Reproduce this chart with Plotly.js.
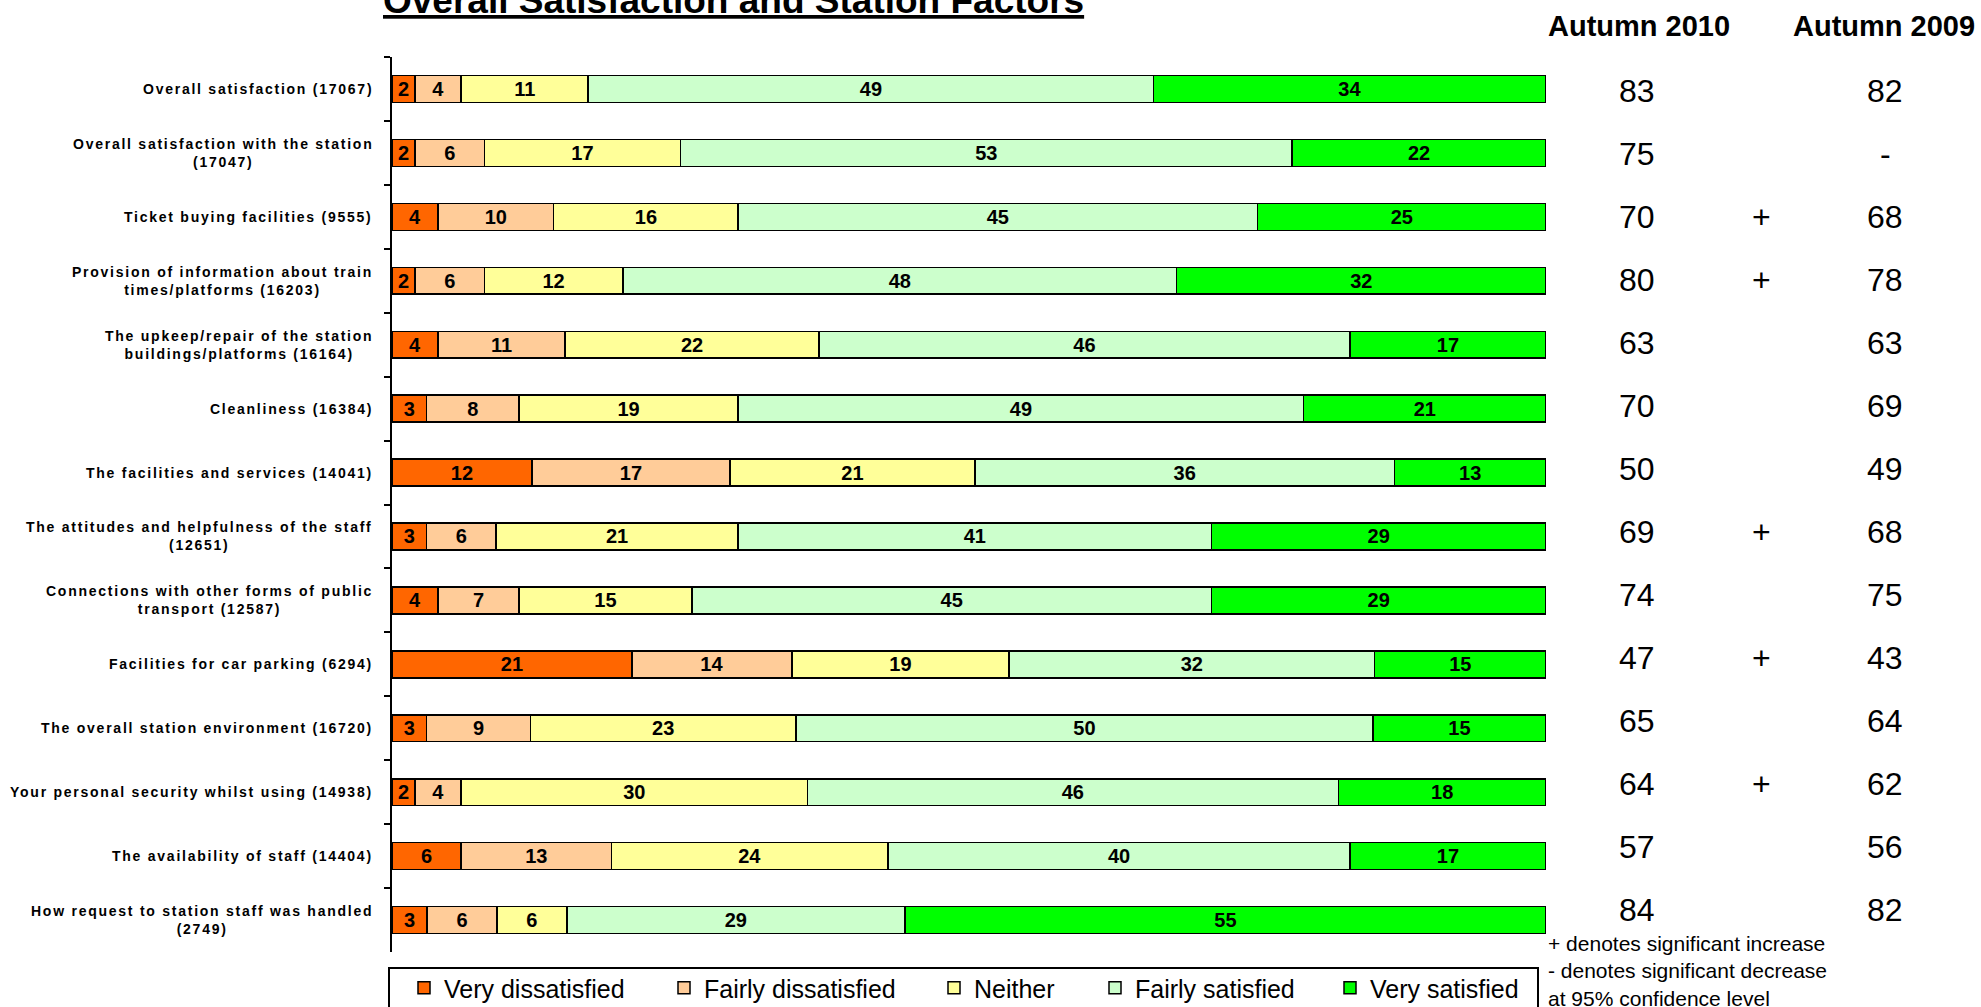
<!DOCTYPE html>
<html><head><meta charset="utf-8">
<script src="https://cdn.plot.ly/plotly-3.0.1.min.js"></script>
<style>html,body{margin:0;padding:0;background:#fff;overflow:hidden}#chart{width:1981px;height:1007px}</style>
</head><body><div id="chart"></div>
<script>
// ---------- data ----------
const chartTitle = 'Overall Satisfaction and Station Factors';
const categories = [
  'Overall satisfaction (17067)',
  'Overall satisfaction with the station<br>(17047)',
  'Ticket buying facilities (9555)',
  'Provision of information about train<br>times/platforms (16203)',
  'The upkeep/repair of the station<br>buildings/platforms (16164)',
  'Cleanliness (16384)',
  'The facilities and services (14041)',
  'The attitudes and helpfulness of the staff<br>(12651)',
  'Connections with other forms of public<br>transport (12587)',
  'Facilities for car parking (6294)',
  'The overall station environment (16720)',
  'Your personal security whilst using (14938)',
  'The availability of staff (14404)',
  'How request to station staff was handled<br>(2749)'
];
const veryDissatisfied   = [2, 2, 4, 2, 4, 3, 12, 3, 4, 21, 3, 2, 6, 3];
const fairlyDissatisfied = [4, 6, 10, 6, 11, 8, 17, 6, 7, 14, 9, 4, 13, 6];
const neither            = [11, 17, 16, 12, 22, 19, 21, 21, 15, 19, 23, 30, 24, 6];
const fairlySatisfied    = [49, 53, 45, 48, 46, 49, 36, 41, 45, 32, 50, 46, 40, 29];
const verySatisfied      = [34, 22, 25, 32, 17, 21, 13, 29, 29, 15, 15, 18, 17, 55];
const seriesNames  = ['Very dissatisfied', 'Fairly dissatisfied', 'Neither', 'Fairly satisfied', 'Very satisfied'];
const seriesColors = ['#FF6600', '#FFCC99', '#FFFF99', '#CCFFCC', '#00FF00'];
const columnHeaders = ['Autumn 2010', 'Autumn 2009'];
const autumn2010   = ['83', '75', '70', '80', '63', '70', '50', '69', '74', '47', '65', '64', '57', '84'];
const significance = ['', '', '+', '+', '', '', '', '+', '', '+', '', '+', '', ''];
const autumn2009   = ['82', '-', '68', '78', '63', '69', '49', '68', '75', '43', '64', '62', '56', '82'];
const footnoteLines = ['+ denotes significant increase', '- denotes significant decrease', 'at 95% confidence level'];

// ---------- layout geometry ----------
const W = 1981, H = 1007;
const L = 392, R = 1546, T = 57, B = 952;
const xp = px => (px - L) / (R - L);
const yp = py => (B - py) / (B - T);

const SANS = '"Liberation Sans", Arial, sans-serif';

const seriesValues = [veryDissatisfied, fairlyDissatisfied, neither, fairlySatisfied, verySatisfied];
const legendCenters = [428, 688, 958, 1119, 1354];

const traces = seriesValues.map((vals, k) => ({
  type: 'bar', orientation: 'h',
  y: categories, x: vals,
  name: seriesNames[k],
  text: vals.map(String), texttemplate: '%{text}',
  textposition: 'inside', insidetextanchor: 'middle', textangle: 0,
  textfont: {family: SANS, size: 20, color: '#000', weight: 'bold'},
  marker: {color: seriesColors[k], line: {color: '#000', width: 1.5}},
  legend: k === 0 ? 'legend' : 'legend' + (k + 1),
  hoverinfo: 'skip'
}));

const spaced = s => s.split('<br>').map(l => '<span style="letter-spacing:1.75px">' + l + '</span>').join('<br>');

const annotations = [];
categories.forEach((c, i) => {
  annotations.push({xref: 'paper', x: xp(375), xanchor: 'right', yref: 'y', y: c,
    text: spaced(c), align: 'center', showarrow: false,
    font: {family: SANS, size: 14, color: '#000', weight: 'bold'}});
  const ys = 0.93 * i - 2;
  annotations.push({xref: 'paper', x: xp(1637), xanchor: 'center', yref: 'y', y: c, yshift: ys,
    text: autumn2010[i], showarrow: false, font: {family: SANS, size: 32, color: '#000'}});
  if (significance[i]) annotations.push({xref: 'paper', x: xp(1761), xanchor: 'center', yref: 'y', y: c, yshift: ys,
    text: significance[i], showarrow: false, font: {family: SANS, size: 32, color: '#000'}});
  annotations.push({xref: 'paper', x: xp(1885), xanchor: 'center', yref: 'y', y: c, yshift: ys,
    text: autumn2009[i], showarrow: false, font: {family: SANS, size: 32, color: '#000'}});
});
annotations.push({xref: 'paper', x: xp(1639), xanchor: 'center', yref: 'paper', y: yp(26), yanchor: 'middle',
  text: columnHeaders[0], showarrow: false, font: {family: SANS, size: 29, color: '#000', weight: 'bold'}});
annotations.push({xref: 'paper', x: xp(1884), xanchor: 'center', yref: 'paper', y: yp(26), yanchor: 'middle',
  text: columnHeaders[1], showarrow: false, font: {family: SANS, size: 29, color: '#000', weight: 'bold'}});
annotations.push({xref: 'paper', x: xp(1546), xanchor: 'left', yref: 'paper', y: yp(971), yanchor: 'middle',
  text: footnoteLines.join('<br>'), align: 'left', showarrow: false, font: {family: SANS, size: 21, color: '#000'}});
annotations.push({xref: 'paper', x: xp(733), xanchor: 'center', yref: 'paper', y: yp(23), yanchor: 'bottom',
  text: '<u>' + chartTitle + '</u>', showarrow: false,
  font: {family: SANS, size: 37, color: '#000', weight: 'bold'}});

const layout = {
  width: W, height: H,
  margin: {l: L, r: W - R, t: T, b: H - B, autoexpand: false},
  paper_bgcolor: '#fff', plot_bgcolor: '#fff',
  barmode: 'stack', barnorm: 'percent', bargap: 0.58,
  uniformtext: {mode: 'show', minsize: 20},
  xaxis: {range: [0, 100], visible: false, fixedrange: true},
  yaxis: {type: 'category', autorange: 'reversed', showticklabels: false,
    ticks: 'outside', tickson: 'boundaries', ticklen: 6, tickwidth: 2, tickcolor: '#000',
    showline: true, linecolor: '#000', linewidth: 2, showgrid: false, zeroline: false, fixedrange: true},
  annotations: annotations,
  shapes: [{type: 'rect', xref: 'paper', yref: 'paper', x0: xp(389), x1: xp(1538), y0: yp(968), y1: yp(1040),
    line: {color: '#000', width: 2}, fillcolor: 'rgba(0,0,0,0)'}],
  showlegend: true
};
legendCenters.forEach((cx, k) => {
  const key = k === 0 ? 'legend' : 'legend' + (k + 1);
  layout[key] = {x: xp(cx - 24), xanchor: 'left', y: yp(988), yanchor: 'middle', orientation: 'h',
    bgcolor: 'rgba(0,0,0,0)', borderwidth: 0, font: {family: SANS, size: 25, color: '#000'}};
});

Plotly.newPlot('chart', traces, layout, {displayModeBar: false, staticPlot: true});
</script>
</body></html>
